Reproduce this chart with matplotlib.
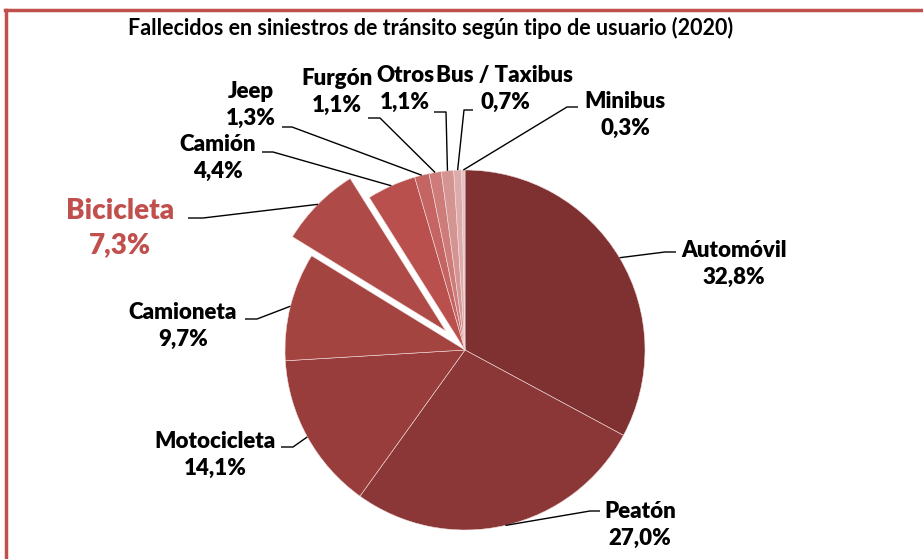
import matplotlib
matplotlib.use("Agg")
import matplotlib.pyplot as plt
from matplotlib.lines import Line2D
import numpy as np

W, H = 923, 559

titulo = "Fallecidos en siniestros de tránsito según tipo de usuario (2020)"
tipos = ["Automóvil", "Peatón", "Motocicleta", "Camioneta", "Bicicleta", "Camión",
         "Jeep", "Furgón", "Otros", "Bus / Taxibus", "Minibus"]
porcentajes = [32.8, 27.0, 14.1, 9.7, 7.3, 4.4, 1.3, 1.1, 1.1, 0.7, 0.3]
colores = ["#7f3132", "#8b3737", "#983d3b", "#a34441", "#ae4a47", "#ba504d",
           "#c56563", "#cd7c79", "#d49492", "#dcabaa", "#e5c3c2"]
destacado = "Bicicleta"

# label layout in pixel coords (top-left origin): text centre, elbow, end of leader
etiq_pos = {
    "Automóvil": (734, 264), "Peatón": (640, 525), "Motocicleta": (215, 455),
    "Camioneta": (183, 326), "Bicicleta": (120, 228), "Camión": (218, 158),
    "Jeep": (251, 105), "Furgón": (337, 92), "Otros": (405, 89),
    "Bus / Taxibus": (505, 89), "Minibus": (625, 115),
}
lineas = {
    "Automóvil": [(665, 252), (676, 252)], "Peatón": [(590, 511), (600, 511)],
    "Motocicleta": [(293, 447), (281, 447)], "Camioneta": [(257, 319), (245, 319)],
    "Bicicleta": [(203, 218), (188, 218)], "Camión": [(273, 152), (262, 152)],
    "Jeep": [(292, 127), (282, 127)], "Furgón": [(380, 118), (368, 118)],
    "Otros": [(446, 112), (434, 112)], "Bus / Taxibus": [(464, 110), (473, 110)],
    "Minibus": [(567, 107), (578, 107)],
}

def py(y):
    return H - y

fig = plt.figure(figsize=(W / 100, H / 100), dpi=100)
ax = fig.add_axes([0, 0, 1, 1])

radio = 180
explode = [0.15 * radio if t == destacado else 0 for t in tipos]
wedges, _ = ax.pie(porcentajes, colors=colores, startangle=90, counterclock=False,
                   explode=explode, center=(465, py(350)), radius=radio,
                   wedgeprops=dict(edgecolor="#f3dede", linewidth=0.4))
ax.set_xlim(0, W)
ax.set_ylim(0, H)
ax.set_aspect("equal")
ax.axis("off")

fuente = "Lato"
for w, t, p in zip(wedges, tipos, porcentajes):
    ang = np.deg2rad((w.theta1 + w.theta2) / 2)
    cx, cy = w.center
    x0, y0 = cx + w.r * np.cos(ang), cy + w.r * np.sin(ang)
    pts = lineas[t]
    xs = [x0] + [q[0] for q in pts]
    ys = [y0] + [py(q[1]) for q in pts]
    ax.plot(xs, ys, color="black", lw=1.0, solid_capstyle="butt")
    tx, ty = etiq_pos[t]
    txt = f"{t}\n{p:.1f}%".replace(".", ",")
    if t == destacado:
        ax.text(tx, py(ty), txt, ha="center", va="center", fontsize=20,
                fontweight="heavy", color="#c0504d", family=fuente, linespacing=1.35)
    else:
        ax.text(tx, py(ty), txt, ha="center", va="center", fontsize=16,
                fontweight="heavy", color="black", family=fuente, linespacing=1.38)

fig.text(431 / W, 1 - 28 / H, titulo, ha="center", va="center", fontsize=15.5,
         fontweight="bold", family=fuente)

# red frame (only top and left visible in the crop)
fig.add_artist(Line2D([5 / W, 1], [1 - 9.5 / H, 1 - 9.5 / H], color="#c0504d", lw=2.5,
                      transform=fig.transFigure))
fig.add_artist(Line2D([6 / W, 6 / W], [0, 1 - 9.5 / H], color="#c0504d", lw=2.5,
                      transform=fig.transFigure))

fig.savefig("out.png", dpi=100)
